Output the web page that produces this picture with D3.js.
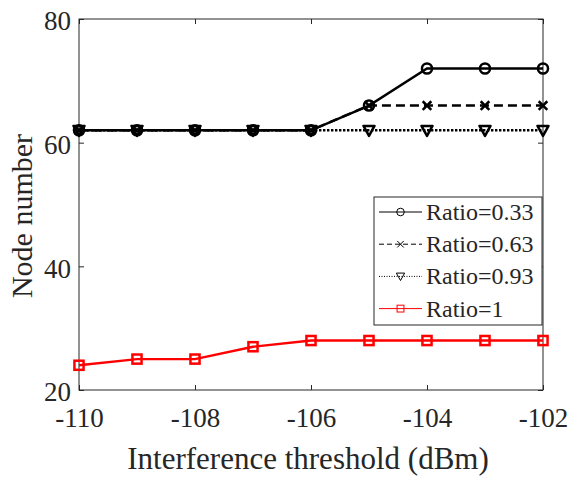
<!DOCTYPE html>
<html>
<head>
  <meta charset="utf-8">
  <script src="https://cdnjs.cloudflare.com/ajax/libs/d3/7.8.5/d3.min.js"></script>
  <style>
    body { margin: 0; background: #fff; }
    text { font-family: "Liberation Serif", "Times New Roman", serif; fill: #262626; }
  </style>
</head>
<body>
  <div id="viz"></div>
  <script>
    // data
    var thresholds = [-110, -109, -108, -107, -106, -105, -104, -103, -102];
    var ratio033 = [62, 62, 62, 62, 62, 66, 72, 72, 72];
    var ratio063 = [62, 62, 62, 62, 62, 66, 66, 66, 66];
    var ratio093 = [62, 62, 62, 62, 62, 62, 62, 62, 62];
    var ratio1   = [24, 25, 25, 27, 28, 28, 28, 28, 28];
    var seriesNames = ["Ratio=0.33", "Ratio=0.63", "Ratio=0.93", "Ratio=1"];
    var xTicks = [-110, -108, -106, -104, -102];
    var yTicks = [20, 40, 60, 80];

    var width = 569, height = 477;
    var plotL = 79, plotR = 543, plotT = 19, plotB = 390;

    var svg = d3.select("#viz").append("svg")
        .attr("width", width)
        .attr("height", height);

    var x = d3.scaleLinear().domain([-110, -102]).range([plotL, plotR]);
    var y = d3.scaleLinear().domain([20, 80]).range([plotB, plotT]);

    var axisColor = "#262626";
    var plain = function (d) { return String(d); };   // keep the ascii hyphen

    // box + inward ticks (matlab style)
    svg.append("rect")
        .attr("x", plotL).attr("y", plotT)
        .attr("width", plotR - plotL).attr("height", plotB - plotT)
        .attr("fill", "none").attr("stroke", axisColor).attr("stroke-width", 1);

    var xAxis = svg.append("g")
        .attr("transform", "translate(0," + plotB + ")")
        .call(d3.axisBottom(x).tickValues(xTicks).tickFormat(plain).tickSizeInner(-5).tickSizeOuter(0).tickPadding(18));
    var yAxis = svg.append("g")
        .attr("transform", "translate(" + plotL + ",0)")
        .call(d3.axisLeft(y).tickValues(yTicks).tickFormat(plain).tickSizeInner(-5).tickSizeOuter(0).tickPadding(8));
    var xTop = svg.append("g")
        .attr("transform", "translate(0," + plotT + ")")
        .call(d3.axisTop(x).tickValues(xTicks).tickSizeInner(-5).tickSizeOuter(0).tickFormat(""));
    var yRight = svg.append("g")
        .attr("transform", "translate(" + plotR + ",0)")
        .call(d3.axisRight(y).tickValues(yTicks).tickSizeInner(-5).tickSizeOuter(0).tickFormat(""));

    [xAxis, yAxis, xTop, yRight].forEach(function (g) {
      g.select(".domain").remove();
      g.selectAll("line").attr("stroke", axisColor);
      g.selectAll("text")
          .style("font-family", "'Liberation Serif', serif")
          .style("font-size", "27px")
          .attr("fill", axisColor);
    });
    xAxis.selectAll("text").attr("dy", "0.71em");
    yAxis.selectAll("text").attr("dy", "0.4em");

    // axis titles
    svg.append("text")
        .attr("x", (plotL + plotR) / 2 - 3)
        .attr("y", 469)
        .attr("text-anchor", "middle")
        .style("font-size", "31px")
        .text("Interference threshold (dBm)");

    svg.append("text")
        .attr("transform", "translate(32,216) rotate(-90)")
        .attr("text-anchor", "middle")
        .style("font-size", "30px")
        .text("Node number");

    // series
    var series = [
      { name: seriesNames[0], values: ratio033, color: "#000", dash: null, marker: "circle" },
      { name: seriesNames[1], values: ratio063, color: "#000", dash: "8,5", marker: "cross" },
      { name: seriesNames[2], values: ratio093, color: "#000", dash: "2,2", marker: "triangle" },
      { name: seriesNames[3], values: ratio1, color: "#ff0000", dash: null, marker: "square" }
    ];

    var line = d3.line()
        .x(function (d) { return x(d.x); })
        .y(function (d) { return y(d.y); });

    function drawMarker(g, type, cx, cy, color, size, sw) {
      if (type === "circle") {
        g.append("circle").attr("cx", cx).attr("cy", cy).attr("r", size * 0.42)
            .attr("fill", "none").attr("stroke", color).attr("stroke-width", sw);
      } else if (type === "cross") {
        var s = size * 0.36;
        g.append("path")
            .attr("d", "M" + (cx - s) + "," + (cy - s) + "L" + (cx + s) + "," + (cy + s) +
                       "M" + (cx - s) + "," + (cy + s) + "L" + (cx + s) + "," + (cy - s))
            .attr("stroke", color).attr("stroke-width", sw);
      } else if (type === "triangle") {
        var h = size * 0.46;
        g.append("path")
            .attr("d", "M" + (cx - h) + "," + (cy - h * 0.8) + "L" + (cx + h) + "," + (cy - h * 0.8) +
                       "L" + cx + "," + (cy + h) + "Z")
            .attr("fill", "none").attr("stroke", color).attr("stroke-width", sw)
            .attr("stroke-linejoin", "round");
      } else if (type === "square") {
        var q = size * 0.38;
        g.append("rect").attr("x", cx - q).attr("y", cy - q)
            .attr("width", 2 * q).attr("height", 2 * q)
            .attr("fill", "none").attr("stroke", color).attr("stroke-width", sw);
      }
    }

    series.forEach(function (s) {
      var pts = thresholds.map(function (t, i) { return { x: t, y: s.values[i] }; });
      var g = svg.append("g");
      g.append("path")
          .datum(pts)
          .attr("d", line)
          .attr("fill", "none")
          .attr("stroke", s.color)
          .attr("stroke-width", 2.4)
          .attr("stroke-dasharray", s.dash ? (s.dash === "2,2" ? "2.4,1.6" : "9,5") : null);
      pts.forEach(function (p) {
        drawMarker(g, s.marker, x(p.x), y(p.y), s.color, 12, 2.5);
      });
    });

    // legend
    var lg = svg.append("g");
    lg.append("rect")
        .attr("x", 374).attr("y", 197)
        .attr("width", 168).attr("height", 128)
        .attr("fill", "#fff").attr("stroke", axisColor).attr("stroke-width", 1);

    series.forEach(function (s, i) {
      var cy = 212 + i * 32.2;
      lg.append("line")
          .attr("x1", 379).attr("x2", 422)
          .attr("y1", cy).attr("y2", cy)
          .attr("stroke", s.color)
          .attr("stroke-width", 1)
          .attr("stroke-dasharray", s.dash ? (s.dash === "2,2" ? "1,1.5" : "5,3") : null);
      drawMarker(lg, s.marker, 400.5, cy, s.color, 9, 1);
      lg.append("text")
          .attr("x", 426)
          .attr("y", cy + 8)
          .style("font-size", "24px")
          .attr("fill", "#000")
          .text(s.name);
    });
  </script>
</body>
</html>
